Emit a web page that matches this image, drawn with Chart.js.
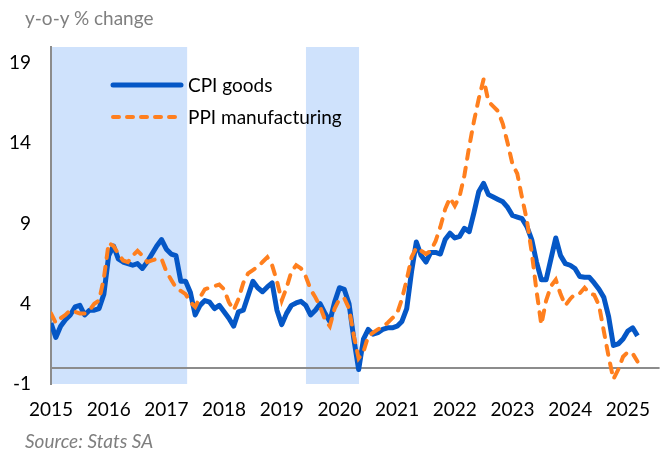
<!DOCTYPE html>
<html>
<head>
<meta charset="utf-8">
<script src="https://cdn.jsdelivr.net/npm/chart.js@4"></script>
<style>
  body { margin: 0; background: #fff; }
  #wrap { position: relative; width: 664px; height: 453px; }
  .note { position: absolute; left: 25px; font-family: Lato, sans-serif; font-size: 19px; color: #7f7f7f; white-space: nowrap; }
  #unit { top: 6px; }
  #source { top: 429px; font-style: italic; }
</style>
</head>
<body>
<div id="wrap">
  <canvas id="grafico" width="664" height="453"></canvas>
  <div class="note" id="unit">y-o-y % change</div>
  <div class="note" id="source">Source: Stats SA</div>
</div>
<script>
// meses (jan 2015 .. mar 2025)
const categories = [];
for (let ano = 2015; ano <= 2025; ano++) {
  for (let mes = 1; mes <= 12; mes++) categories.push(ano + '-' + String(mes).padStart(2, '0'));
}

const cpiGoods = [
  2.8, 1.9, 2.6, 3.0, 3.3, 3.8, 3.9, 3.3, 3.6, 3.6, 3.7, 4.6,
  7.0, 7.6, 6.8, 6.6, 6.5, 6.4, 6.5, 6.2, 6.6, 7.1, 7.6, 8.0,
  7.4, 7.1, 7.0, 5.4, 5.4, 4.7, 3.3, 3.9, 4.2, 4.1, 3.7, 3.9,
  3.5, 3.1, 2.6, 3.5, 3.6, 4.5, 5.4, 5.0, 4.75, 5.05, 5.3, 3.6,
  2.7, 3.4, 3.9, 4.05, 4.15, 3.9, 3.3, 3.6, 4.0, 3.4, 2.9, 4.1,
  5.0, 4.9, 4.0, 1.8, -0.1, 1.8, 2.4, 2.1, 2.2, 2.4, 2.5, 2.5,
  2.6, 2.9, 3.7, 6.0, 7.85, 7.0, 6.6, 7.2, 7.2, 7.1, 8.0, 8.4,
  8.1, 8.2, 8.7, 8.5, 9.7, 11.0, 11.5, 10.8, 10.65, 10.5, 10.35, 10.0,
  9.5, 9.4, 9.3, 8.8, 8.0, 6.6, 5.5, 5.5, 6.8, 8.1, 7.0, 6.5,
  6.4, 6.2, 5.7, 5.65, 5.65, 5.3, 4.9, 4.4, 3.2, 1.4, 1.5, 1.8,
  2.3, 2.5, 2.0
];

const ppiManufacturing = [
  3.4, 2.8, 3.1, 3.3, 3.6, 3.5, 3.4, 3.4, 3.6, 4.0, 4.2, 5.6,
  7.8, 7.6, 7.1, 6.7, 6.6, 7.0, 7.3, 7.0, 6.6, 6.7, 6.8, 6.8,
  6.0, 5.5, 5.0, 4.8, 4.6, 4.1, 3.8, 4.4, 4.9, 5.0, 5.1, 5.2,
  4.9, 4.1, 3.6, 4.3, 5.3, 5.9, 6.1, 6.3, 6.6, 6.9, 6.4, 5.4,
  4.2, 5.0, 6.0, 6.4, 6.2, 5.7, 4.9, 4.4, 3.8, 3.0, 2.6, 3.7,
  4.3, 4.35, 3.7, 2.0, 0.6, 1.0, 2.0, 2.2, 2.4, 2.6, 2.8, 3.1,
  3.4, 4.3, 5.5, 6.9, 7.5, 7.3, 7.1, 7.3, 7.9, 8.8, 9.9, 10.6,
  10.1, 10.7, 12.0, 13.8, 15.4, 16.8, 18.0, 16.6, 16.3, 16.0, 15.2, 14.0,
  12.7, 12.1, 10.6, 9.2, 7.2, 4.8, 2.7, 4.2, 5.1, 5.5, 4.6, 3.9,
  4.3, 4.6, 4.65, 5.0, 4.65, 4.55, 3.9, 2.3, 0.7, -0.7, -0.1, 0.7,
  1.0, 0.9, 0.4
];

const yTicks = [-1, 4, 9, 14, 19];
const xTicks = [2015, 2016, 2017, 2018, 2019, 2020, 2021, 2022, 2023, 2024, 2025];

// periodos sombreados (em anos decimais)
const shadeStart = [2015.0, 2019.42];
const shadeEnd = [2017.36, 2020.34];

const legendNames = ['CPI goods', 'PPI manufacturing'];

// mes -> ano decimal
function paraAno(rotulo) {
  const [a, m] = rotulo.split('-').map(Number);
  return a + (m - 1) / 12;
}

function pontos(serie) {
  return serie.map((v, i) => ({ x: paraAno(categories[i]), y: v }));
}

const azul = '#0557c6';
const laranja = '#ff7f1e';
const tracos = [9, 9];

// sombreado e linha do zero
const fundo = {
  id: 'fundo',
  beforeDraw(chart) {
    const { ctx, chartArea: a, scales: { x } } = chart;
    ctx.save();
    ctx.fillStyle = '#cfe2fc';
    shadeStart.forEach((s, i) => {
      const x0 = x.getPixelForValue(s);
      const x1 = x.getPixelForValue(shadeEnd[i]);
      ctx.fillRect(x0, a.top, x1 - x0, a.bottom - a.top);
    });
    ctx.restore();
  },
  beforeDatasetsDraw(chart) {
    const { ctx, chartArea: a, scales: { y } } = chart;
    const y0 = y.getPixelForValue(0);
    ctx.save();
    ctx.strokeStyle = '#8c8c8c';
    ctx.lineWidth = 2;
    ctx.beginPath();
    ctx.moveTo(a.left, y0);
    ctx.lineTo(a.right, y0);
    ctx.stroke();
    ctx.restore();
  }
};

// legenda dentro do grafico
const legenda = {
  id: 'legenda',
  afterDraw(chart) {
    const { ctx } = chart;
    const linhas = [
      { cor: azul, largura: 5, tracejado: [], y: 85 },
      { cor: laranja, largura: 4, tracejado: [6, 8], y: 117 }
    ];
    ctx.save();
    ctx.font = '19px Lato';
    ctx.textBaseline = 'middle';
    linhas.forEach((l, i) => {
      ctx.strokeStyle = l.cor;
      ctx.lineWidth = l.largura;
      ctx.lineCap = 'round';
      ctx.setLineDash(l.tracejado);
      ctx.beginPath();
      ctx.moveTo(113, l.y);
      ctx.lineTo(181, l.y);
      ctx.stroke();
      ctx.fillStyle = '#000';
      ctx.fillText(legendNames[i], 188, l.y + 1);
    });
    ctx.restore();
  }
};

new Chart(document.getElementById('grafico'), {
  type: 'line',
  data: {
    datasets: [
      {
        label: legendNames[0],
        data: pontos(cpiGoods),
        borderColor: azul,
        borderWidth: 5,
        pointRadius: 0,
        tension: 0,
        borderJoinStyle: 'round',
        order: 2
      },
      {
        label: legendNames[1],
        data: pontos(ppiManufacturing),
        borderColor: laranja,
        borderWidth: 4,
        borderDash: tracos,
        borderCapStyle: 'round',
        pointRadius: 0,
        tension: 0,
        order: 1
      }
    ]
  },
  options: {
    responsive: false,
    animation: false,
    devicePixelRatio: 1,
    layout: { padding: { top: 47, right: 2, left: 0, bottom: 0 } },
    plugins: {
      legend: { display: false },
      tooltip: { enabled: false }
    },
    scales: {
      x: {
        type: 'linear',
        min: 2015,
        max: 2025.55,
        grid: { display: false, drawTicks: false },
        border: { display: false },
        afterBuildTicks: (s) => { s.ticks = xTicks.map(v => ({ value: v })); },
        afterFit: (s) => { s.height = 69; },
        ticks: {
          color: '#000',
          font: { family: 'Lato', size: 19 },
          padding: 14,
          maxRotation: 0,
          autoSkip: false,
          callback: (v) => String(v)
        }
      },
      y: {
        min: -1,
        max: 20,
        grid: { display: false, drawTicks: false },
        border: { display: true, color: '#8c8c8c', width: 2 },
        afterBuildTicks: (s) => { s.ticks = yTicks.map(v => ({ value: v })); },
        afterFit: (s) => { s.width = 51; },
        ticks: {
          color: '#000',
          font: { family: 'Lato', size: 19 },
          padding: 20,
          callback: (v) => String(v)
        }
      }
    }
  },
  plugins: [fundo, legenda]
});
</script>
</body>
</html>
